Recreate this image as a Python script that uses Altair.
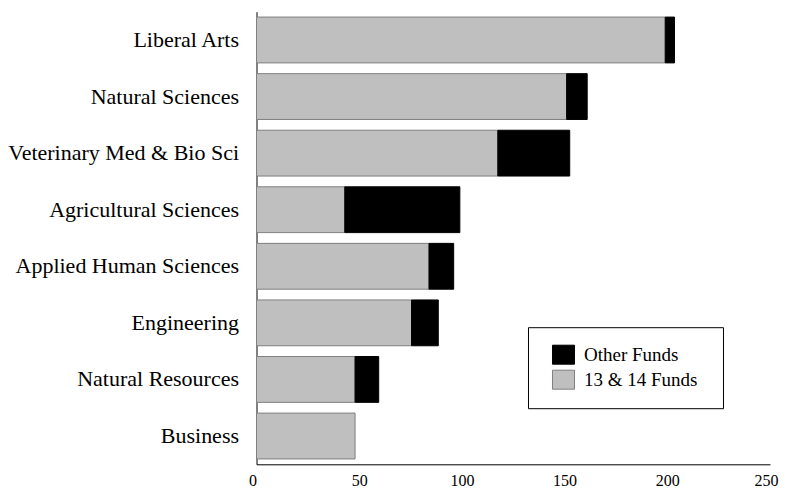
import altair as alt
import pandas as pd

categories = ["Liberal Arts", "Natural Sciences", "Veterinary Med & Bio Sci",
              "Agricultural Sciences", "Applied Human Sciences", "Engineering",
              "Natural Resources", "Business"]
funds_13_14 = [199, 151, 117.5, 43, 84, 75.5, 48, 48]
other_funds = [4.5, 10, 35, 56, 12, 13, 11.5, 0]
series = ["Other Funds", "13 & 14 Funds"]

rows = []
for c, g, o in zip(categories, funds_13_14, other_funds):
    rows.append({"college": c, "fund": "13 & 14 Funds", "value": g, "ord": 0})
    rows.append({"college": c, "fund": "Other Funds", "value": o, "ord": 1})
df = pd.DataFrame(rows)

FONT = "Liberation Serif"

chart = alt.Chart(df).transform_filter("datum.value > 0").mark_bar(strokeWidth=1).encode(
    y=alt.Y("college:N", sort=categories,
            scale=alt.Scale(paddingInner=0.19, paddingOuter=0.095),
            axis=alt.Axis(title=None, ticks=False, domainColor="black", domainWidth=1,
                          labelFont=FONT, labelFontSize=22, labelColor="black",
                          labelPadding=18, labelLimit=300)),
    x=alt.X("value:Q", stack="zero",
            scale=alt.Scale(domain=[0, 250], nice=False),
            axis=alt.Axis(title=None, ticks=False, grid=False, values=[0, 50, 100, 150, 200, 250],
                          domainColor="black", domainWidth=1, labelFont=FONT, labelFontSize=16,
                          labelColor="black", labelPadding=8, labelFlush=True,
                          labelFlushOffset=8)),
    color=alt.Color("fund:N", scale=alt.Scale(domain=series, range=["#000000", "#bfbfbf"]),
                    legend=alt.Legend(title=None,
                                      orient="none", legendX=271.5, legendY=315.5,
                                      strokeColor="black", fillColor="white", padding=16,
                                      symbolType="M-1,-0.864H1V0.864H-1Z", symbolSize=484,
                                      symbolStrokeWidth=1, symbolOffset=8,
                                      labelFont=FONT, labelFontSize=19, labelColor="black",
                                      labelOffset=9, rowPadding=0,
                                      labelExpr="datum.label + '\u00a0\u00a0\u200b'")),
    stroke=alt.Stroke("fund:N", scale=alt.Scale(domain=series, range=["#000000", "#808080"]),
                      legend=None),
    order=alt.Order("ord:Q"),
).properties(
    width=513.5, height=452.6,
    autosize=alt.AutoSizeParams(type="none"),
    padding={"left": 248.5, "top": 3.7, "right": 9, "bottom": 32},
).configure_view(strokeWidth=0)

chart.save("out.html", embed_options={"renderer": "svg", "actions": False})
